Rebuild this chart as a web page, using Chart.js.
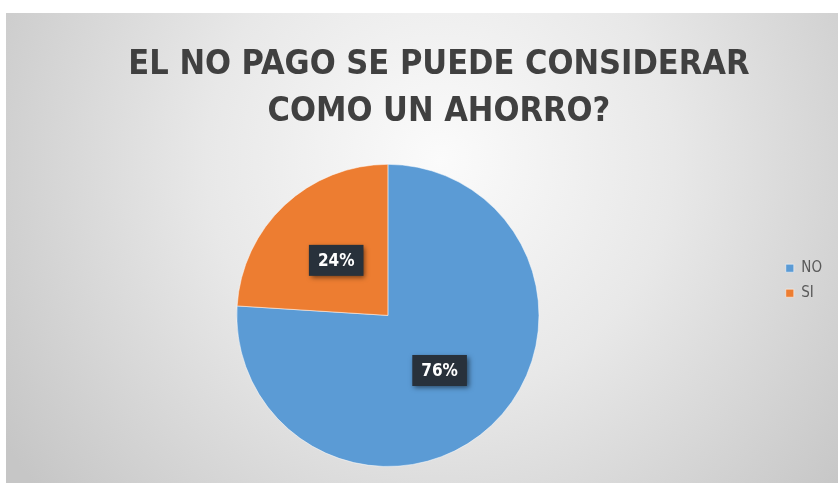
<!DOCTYPE html>
<html>
<head>
<meta charset="utf-8">
<script src="https://cdn.jsdelivr.net/npm/chart.js@4.4.0/dist/chart.umd.min.js"></script>
<style>
  html, body { margin: 0; padding: 0; background: #fff; }
  canvas { display: block; }
</style>
</head>
<body>
<canvas id="pieChart" width="838" height="485"></canvas>
<script>
const categories = ['NO', 'SI'];
const values = [76, 24];
const sliceColors = ['#5b9bd5', '#ed7d31'];
// leading en-spaces nudge the centred title a little to the right, as in the original
const titleLines = ['\u2002\u2002\u2002EL NO PAGO SE PUEDE CONSIDERAR', '\u2002\u2002\u2002COMO UN AHORRO?'];

const narrowFont = '"DejaVu Sans Condensed", "Liberation Sans Narrow", "Liberation Sans", sans-serif';

// gray radial backdrop like the office chart frame
const backdrop = {
  id: 'backdrop',
  beforeDraw(chart) {
    const c = chart.ctx;
    c.save();
    c.fillStyle = '#ffffff';
    c.fillRect(0, 0, chart.width, chart.height);
    const g = c.createRadialGradient(440, 160, 0, 440, 160, 520);
    g.addColorStop(0, '#fbfbfb');
    g.addColorStop(0.45, '#e8e8e8');
    g.addColorStop(1, '#c6c6c6');
    c.fillStyle = g;
    c.fillRect(6, 13, chart.width - 6, chart.height - 15);
    c.restore();
  }
};

// dark percentage boxes on each slice
const pctBoxes = {
  id: 'pctBoxes',
  afterDatasetsDraw(chart) {
    const c = chart.ctx;
    const total = values.reduce((a, b) => a + b, 0);
    const meta = chart.getDatasetMeta(0);
    meta.data.forEach((arc, i) => {
      const p = arc.tooltipPosition();
      const txt = Math.round(values[i] / total * 100) + '%';
      c.save();
      c.font = 'bold 17px ' + narrowFont;
      const w = c.measureText(txt).width + 18;
      const h = 31;
      c.shadowColor = 'rgba(0,0,0,0.55)';
      c.shadowBlur = 5;
      c.shadowOffsetX = 2;
      c.shadowOffsetY = 2;
      c.fillStyle = '#28313b';
      c.fillRect(p.x - w / 2, p.y - h / 2, w, h);
      c.shadowColor = 'transparent';
      c.fillStyle = '#ffffff';
      c.textAlign = 'center';
      c.textBaseline = 'middle';
      c.fillText(txt, p.x, p.y + 1);
      c.restore();
    });
  }
};

const ctx = document.getElementById('pieChart').getContext('2d');
new Chart(ctx, {
  type: 'pie',
  data: {
    labels: categories,
    datasets: [{
      data: values,
      backgroundColor: sliceColors,
      borderColor: 'rgba(255,255,255,0.5)',
      borderWidth: 1
    }]
  },
  options: {
    responsive: false,
    animation: false,
    layout: { padding: { left: 0, right: 6, top: 0, bottom: 18 } },
    plugins: {
      title: {
        display: true,
        text: titleLines,
        color: '#404040',
        font: { family: narrowFont, size: 34, weight: 'bold', lineHeight: 1.38 },
        padding: { top: 42, bottom: 28 }
      },
      legend: {
        position: 'right',
        title: { display: true, text: ' ', font: { size: 12 }, padding: { top: 80, bottom: 0 } },
        labels: {
          boxWidth: 8,
          boxHeight: 8,
          color: '#595959',
          font: { family: narrowFont, size: 15, lineHeight: 1.05 },
          padding: 10
        }
      },
      tooltip: { enabled: false }
    }
  },
  plugins: [backdrop, pctBoxes]
});
</script>
</body>
</html>
